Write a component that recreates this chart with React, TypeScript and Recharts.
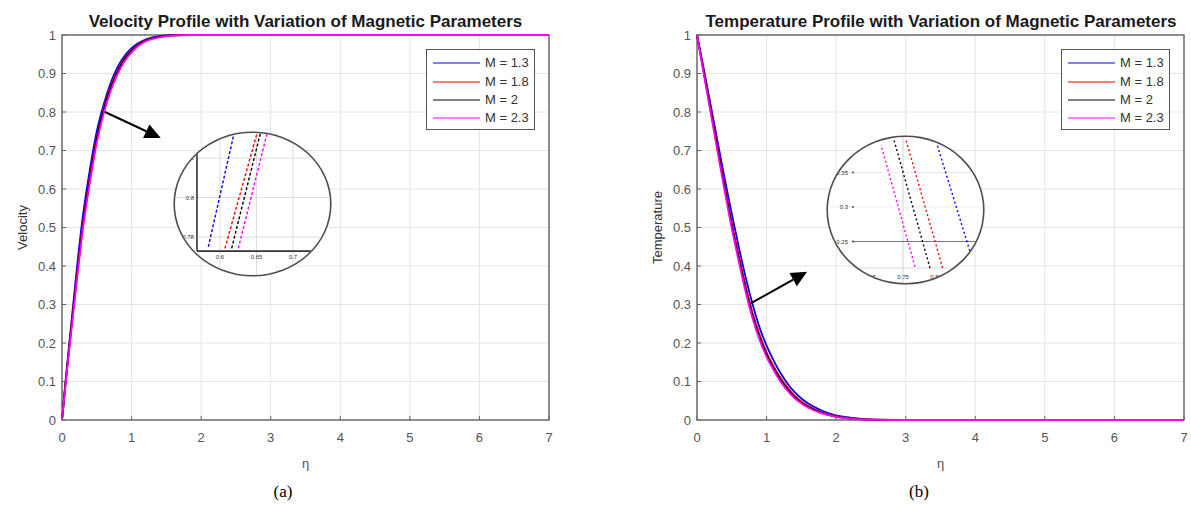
import React from 'react';
import {
  LineChart,
  Line,
  XAxis,
  YAxis,
  CartesianGrid,
  ReferenceArea,
  ReferenceLine,
  ReferenceDot,
  Legend,
} from 'recharts';

const FONT = '"Liberation Sans", Arial, Helvetica, sans-serif';
const SERIF = '"Liberation Serif", "Times New Roman", serif';

// ---------- main data ----------
const eta = [0, 0.05, 0.1, 0.15, 0.2, 0.3, 0.4, 0.5, 0.6, 0.7, 0.8, 0.9, 1.0, 1.1, 1.2, 1.3, 1.4, 1.5, 1.6, 1.8, 2.0, 2.2, 2.4, 2.6, 3, 4, 5, 6, 7];

const velM13 = [0, 0.1, 0.19, 0.28, 0.37, 0.53, 0.65, 0.75, 0.82, 0.876, 0.917, 0.946, 0.966, 0.979, 0.988, 0.994, 0.997, 0.999, 1, 1, 1, 1, 1, 1, 1, 1, 1, 1, 1];
const velM18 = [0, 0.095, 0.185, 0.27, 0.355, 0.51, 0.632, 0.735, 0.81, 0.867, 0.909, 0.94, 0.961, 0.976, 0.986, 0.992, 0.996, 0.998, 0.999, 1, 1, 1, 1, 1, 1, 1, 1, 1, 1];
const velM20 = [0, 0.093, 0.181, 0.265, 0.348, 0.503, 0.625, 0.73, 0.805, 0.862, 0.905, 0.937, 0.959, 0.975, 0.985, 0.991, 0.995, 0.998, 0.999, 1, 1, 1, 1, 1, 1, 1, 1, 1, 1];
const velM23 = [0, 0.09, 0.176, 0.258, 0.34, 0.495, 0.616, 0.72, 0.797, 0.855, 0.899, 0.932, 0.955, 0.972, 0.983, 0.99, 0.994, 0.997, 0.999, 1, 1, 1, 1, 1, 1, 1, 1, 1, 1];

const tempM13 = [1, 0.955, 0.91, 0.862, 0.815, 0.72, 0.625, 0.535, 0.45, 0.37, 0.3, 0.24, 0.193, 0.155, 0.122, 0.095, 0.073, 0.056, 0.043, 0.024, 0.012, 0.006, 0.0025, 0.001, 0, 0, 0, 0, 0];
const tempM18 = [1, 0.952, 0.903, 0.854, 0.805, 0.706, 0.607, 0.512, 0.428, 0.348, 0.278, 0.222, 0.176, 0.14, 0.11, 0.085, 0.064, 0.048, 0.036, 0.019, 0.01, 0.0045, 0.0018, 0.0006, 0, 0, 0, 0, 0];
const tempM20 = [1, 0.95, 0.9, 0.85, 0.8, 0.7, 0.6, 0.505, 0.42, 0.34, 0.27, 0.215, 0.17, 0.135, 0.105, 0.08, 0.06, 0.045, 0.034, 0.018, 0.009, 0.004, 0.0015, 0.0005, 0, 0, 0, 0, 0];
const tempM23 = [1, 0.948, 0.896, 0.845, 0.794, 0.692, 0.592, 0.497, 0.412, 0.332, 0.263, 0.208, 0.164, 0.13, 0.1, 0.076, 0.057, 0.043, 0.032, 0.017, 0.008, 0.0035, 0.0013, 0.0004, 0, 0, 0, 0, 0];

const xTicks = [0, 1, 2, 3, 4, 5, 6, 7];
const yTicks = [0, 0.1, 0.2, 0.3, 0.4, 0.5, 0.6, 0.7, 0.8, 0.9, 1];

const seriesKeys = ['m13', 'm18', 'm20', 'm23'];
const seriesNames = ['M = 1.3', 'M = 1.8', 'M = 2', 'M = 2.3'];
const seriesColors = ['#0000ff', '#ff0000', '#000000', '#ff00ff'];

// ---------- zoom inset data (values read in each inset's own axes) ----------
const velZoomBotX = [0.584, 0.6068, 0.616, 0.6251];
const velZoomBotY = [0.7751, 0.7743, 0.7743, 0.7743];
const velZoomTopX = [0.6219, 0.6548, 0.6593, 0.6685];
const velZoomTopY = [0.8367, 0.8379, 0.8384, 0.8384];
const velZoomXTicks = [0.6, 0.65, 0.7];
const velZoomXLabels = ['0.6', '0.65', '0.7'];
const velZoomYTicks = [0.78, 0.8, 0.82];
const velZoomYLabels = ['0.78', '0.8', '0.82'];

const tempZoomTopX = [0.8035, 0.7548, 0.7357, 0.7151];
const tempZoomTopY = [0.3923, 0.3971, 0.3971, 0.3899];
const tempZoomBotX = [0.8644, 0.813, 0.7929, 0.769];
const tempZoomBotY = [0.2116, 0.2116, 0.2116, 0.2135];
const tempZoomXTicks = [0.7, 0.75, 0.8];
const tempZoomXLabels = ['0.7', '0.75', '0.8'];
const tempZoomYTicks = [0.25, 0.3, 0.35];
const tempZoomYLabels = ['0.25', '0.3', '0.35'];

// annotation arrows (data coordinates)
const velArrow = [{ x: 0.618, y: 0.8 }, { x: 1.42, y: 0.7325 }];
const tempArrow = [{ x: 0.772, y: 0.303 }, { x: 1.583, y: 0.385 }];

const velRows = eta.map((e, i) => ({ eta: e, m13: velM13[i], m18: velM18[i], m20: velM20[i], m23: velM23[i] }));
const tempRows = eta.map((e, i) => ({ eta: e, m13: tempM13[i], m18: tempM18[i], m20: tempM20[i], m23: tempM23[i] }));

const arrowShape = (p: any) => {
  const { x1, y1, x2, y2 } = p;
  const ang = Math.atan2(y2 - y1, x2 - x1);
  const L = 16;
  const W = 7.5;
  const bx = x2 - L * Math.cos(ang);
  const by = y2 - L * Math.sin(ang);
  const nx = -Math.sin(ang);
  const ny = Math.cos(ang);
  return (
    <g>
      <line x1={x1} y1={y1} x2={bx} y2={by} stroke="#000" strokeWidth={2} />
      <polygon points={`${x2},${y2} ${bx + W * nx},${by + W * ny} ${bx - W * nx},${by - W * ny}`} fill="#000" />
    </g>
  );
};

const renderLegend = () => (
  <div
    style={{
      width: 109,
      height: 81,
      border: '1px solid #555',
      background: '#fff',
      boxSizing: 'border-box',
      paddingTop: 4,
      fontFamily: FONT,
    }}
  >
    {seriesNames.map((n, i) => (
      <div key={n} style={{ display: 'flex', alignItems: 'center', height: 18.4 }}>
        <svg width={55} height={10} style={{ display: 'block' }}>
          <line x1={6} y1={5} x2={53} y2={5} stroke={seriesColors[i]} strokeWidth={1.2} />
        </svg>
        <span style={{ fontSize: 13, color: '#333', marginLeft: 3, lineHeight: '14px' }}>{n}</span>
      </div>
    ))}
  </div>
);

function MainChart({ rows, yLabel, arrow }: { rows: any[]; yLabel: string; arrow: any[] }) {
  return (
    <LineChart width={600} height={505} data={rows} margin={{ top: 35, right: 51, bottom: 55, left: 12 }}>
      <CartesianGrid stroke="#e4e4e4" />
      <XAxis
        dataKey="eta"
        type="number"
        domain={[0, 7]}
        ticks={xTicks}
        axisLine={false}
        tickLine={{ stroke: '#666' }}
        tickSize={-4}
        height={30}
        tickMargin={17}
        tick={{ fill: '#555', fontSize: 13, fontFamily: FONT }}
        label={{ value: 'η', position: 'bottom', offset: 9, fill: '#555', fontSize: 13, fontFamily: FONT }}
      />
      <YAxis
        type="number"
        domain={[0, 1]}
        ticks={yTicks}
        width={50}
        axisLine={false}
        tickLine={{ stroke: '#666' }}
        tickSize={-4}
        tickMargin={10}
        tickFormatter={(v: number) => String(v)}
        tick={{ fill: '#555', fontSize: 13, fontFamily: FONT }}
        label={{
          value: yLabel,
          angle: -90,
          position: 'insideLeft',
          offset: 10,
          fill: '#333',
          fontSize: 13,
          fontFamily: FONT,
          style: { textAnchor: 'middle' },
        }}
      />
      <ReferenceArea x1={0} x2={7} y1={0} y2={1} fill="none" stroke="#6e6e6e" strokeWidth={1.5} />
      {seriesKeys.map((k, i) => (
        <Line
          key={k}
          type="monotone"
          dataKey={k}
          name={seriesNames[i]}
          stroke={seriesColors[i]}
          strokeWidth={1.8}
          dot={false}
          isAnimationActive={false}
        />
      ))}
      <ReferenceLine segment={arrow} shape={arrowShape} ifOverflow="visible" />
      <Legend
        layout="vertical"
        align="center"
        verticalAlign="middle"
        content={renderLegend}
        wrapperStyle={{ left: 426, top: 49, right: 'auto', bottom: 'auto', width: 109, margin: 0 }}
      />
    </LineChart>
  );
}

function ZoomInset({
  left,
  top,
  width,
  height,
  xDomain,
  yDomain,
  botX,
  botY,
  topX,
  topY,
  dash,
  children,
}: any) {
  return (
    <div
      style={{
        position: 'absolute',
        left,
        top,
        width,
        height,
        borderRadius: '50%',
        overflow: 'hidden',
        background: '#fff',
        boxShadow: '0 0 0 1.6px #4d4d4d',
      }}
    >
      <LineChart width={width} height={height} margin={{ top: 0, right: 0, bottom: 0, left: 0 }}>
        <XAxis dataKey="x" type="number" domain={xDomain} allowDataOverflow hide />
        <YAxis dataKey="y" type="number" domain={yDomain} allowDataOverflow hide />
        {children}
        {seriesKeys.map((k, i) => (
          <Line
            key={k}
            data={[
              { x: botX[i], y: botY[i] },
              { x: topX[i], y: topY[i] },
            ]}
            dataKey="y"
            type="linear"
            stroke={seriesColors[i]}
            strokeWidth={1.4}
            strokeDasharray={dash}
            dot={false}
            isAnimationActive={false}
          />
        ))}
      </LineChart>
    </div>
  );
}

const tinyLabel = (value: string, position: any, offset = 3) => ({
  value,
  position,
  offset,
  fontSize: 6,
  fill: '#333',
  fontFamily: FONT,
});

export default function App() {
  const velXDom = [0.5384, 0.7507];
  const velYDom = [0.7608, 0.8327];
  const tempXDom = [0.631, 0.877];
  const tempYDom = [0.1899, 0.4014];
  return (
    <div style={{ position: 'absolute', left: 0, top: 0, width: 1191, height: 505, background: '#fff', fontFamily: FONT }}>
      <div style={{ position: 'absolute', left: 0, top: 0 }}>
        <MainChart rows={velRows} yLabel="Velocity" arrow={velArrow} />
      </div>
      <div style={{ position: 'absolute', left: 635, top: 0 }}>
        <MainChart rows={tempRows} yLabel="Temperature" arrow={tempArrow} />
      </div>

      <div style={{ position: 'absolute', left: 62, top: 12, width: 487, textAlign: 'center', fontSize: 17, fontWeight: 'bold', lineHeight: '20px', color: '#1a1a1a', whiteSpace: 'nowrap' }}>
        Velocity Profile with Variation of Magnetic Parameters
      </div>
      <div style={{ position: 'absolute', left: 697, top: 12, width: 488, textAlign: 'center', fontSize: 17, fontWeight: 'bold', lineHeight: '20px', color: '#1a1a1a', whiteSpace: 'nowrap' }}>
        Temperature Profile with Variation of Magnetic Parameters
      </div>

      <ZoomInset
        left={175}
        top={133}
        width={155}
        height={142}
        xDomain={velXDom}
        yDomain={velYDom}
        botX={velZoomBotX}
        botY={velZoomBotY}
        topX={velZoomTopX}
        topY={velZoomTopY}
        dash="3 2"
      >
        {velZoomYTicks.map((t) => (
          <ReferenceLine key={'vy' + t} y={t} stroke="#dcdcdc" />
        ))}
        {velZoomXTicks.map((t) => (
          <ReferenceLine key={'vx' + t} x={t} stroke="#dcdcdc" />
        ))}
        <ReferenceLine segment={[{ x: 0.5685, y: 0.7729 }, { x: 0.5685, y: 0.8276 }]} stroke="#333" strokeWidth={1.6} />
        <ReferenceLine segment={[{ x: 0.5685, y: 0.7729 }, { x: 0.7507, y: 0.7729 }]} stroke="#333" strokeWidth={1.8} />
        {velZoomYTicks.map((t, i) => (
          <ReferenceDot key={'vyl' + t} x={0.5685} y={t} r={0} stroke="none" label={tinyLabel(velZoomYLabels[i], 'left', 3)} />
        ))}
        {velZoomXTicks.map((t, i) => (
          <ReferenceDot key={'vxl' + t} x={t} y={0.7699} r={0} stroke="none" label={tinyLabel(velZoomXLabels[i], 'center', 0)} />
        ))}
      </ZoomInset>

      <ZoomInset
        left={828}
        top={137}
        width={155}
        height={146}
        xDomain={tempXDom}
        yDomain={tempYDom}
        botX={tempZoomBotX}
        botY={tempZoomBotY}
        topX={tempZoomTopX}
        topY={tempZoomTopY}
        dash="2 2.5"
      >
        <ReferenceLine x={0.75} stroke="#d0d0d0" />
        <ReferenceLine y={0.3} stroke="#ececec" />
        <ReferenceLine y={0.35} stroke="#ececec" />
        <ReferenceLine y={0.2116} stroke="#d8d8d8" />
        <ReferenceLine segment={[{ x: 0.6706, y: 0.25 }, { x: 0.877, y: 0.25 }]} stroke="#777" strokeWidth={1.2} />
        {tempZoomYTicks.map((t, i) => (
          <ReferenceDot key={'tyl' + t} x={0.6706} y={t} r={0.9} fill="#333" stroke="none" label={tinyLabel(tempZoomYLabels[i], 'left', 4)} />
        ))}
        {tempZoomXTicks.map((t, i) => (
          <ReferenceDot key={'txl' + t} x={t} y={0.1986} r={0} stroke="none" label={tinyLabel(tempZoomXLabels[i], 'center', 0)} />
        ))}
      </ZoomInset>

      <div style={{ position: 'absolute', left: 253, top: 481, width: 60, textAlign: 'center', fontFamily: SERIF, fontSize: 17, lineHeight: '22px', color: '#000' }}>
        (a)
      </div>
      <div style={{ position: 'absolute', left: 889, top: 481, width: 60, textAlign: 'center', fontFamily: SERIF, fontSize: 17, lineHeight: '22px', color: '#000' }}>
        (b)
      </div>
    </div>
  );
}
